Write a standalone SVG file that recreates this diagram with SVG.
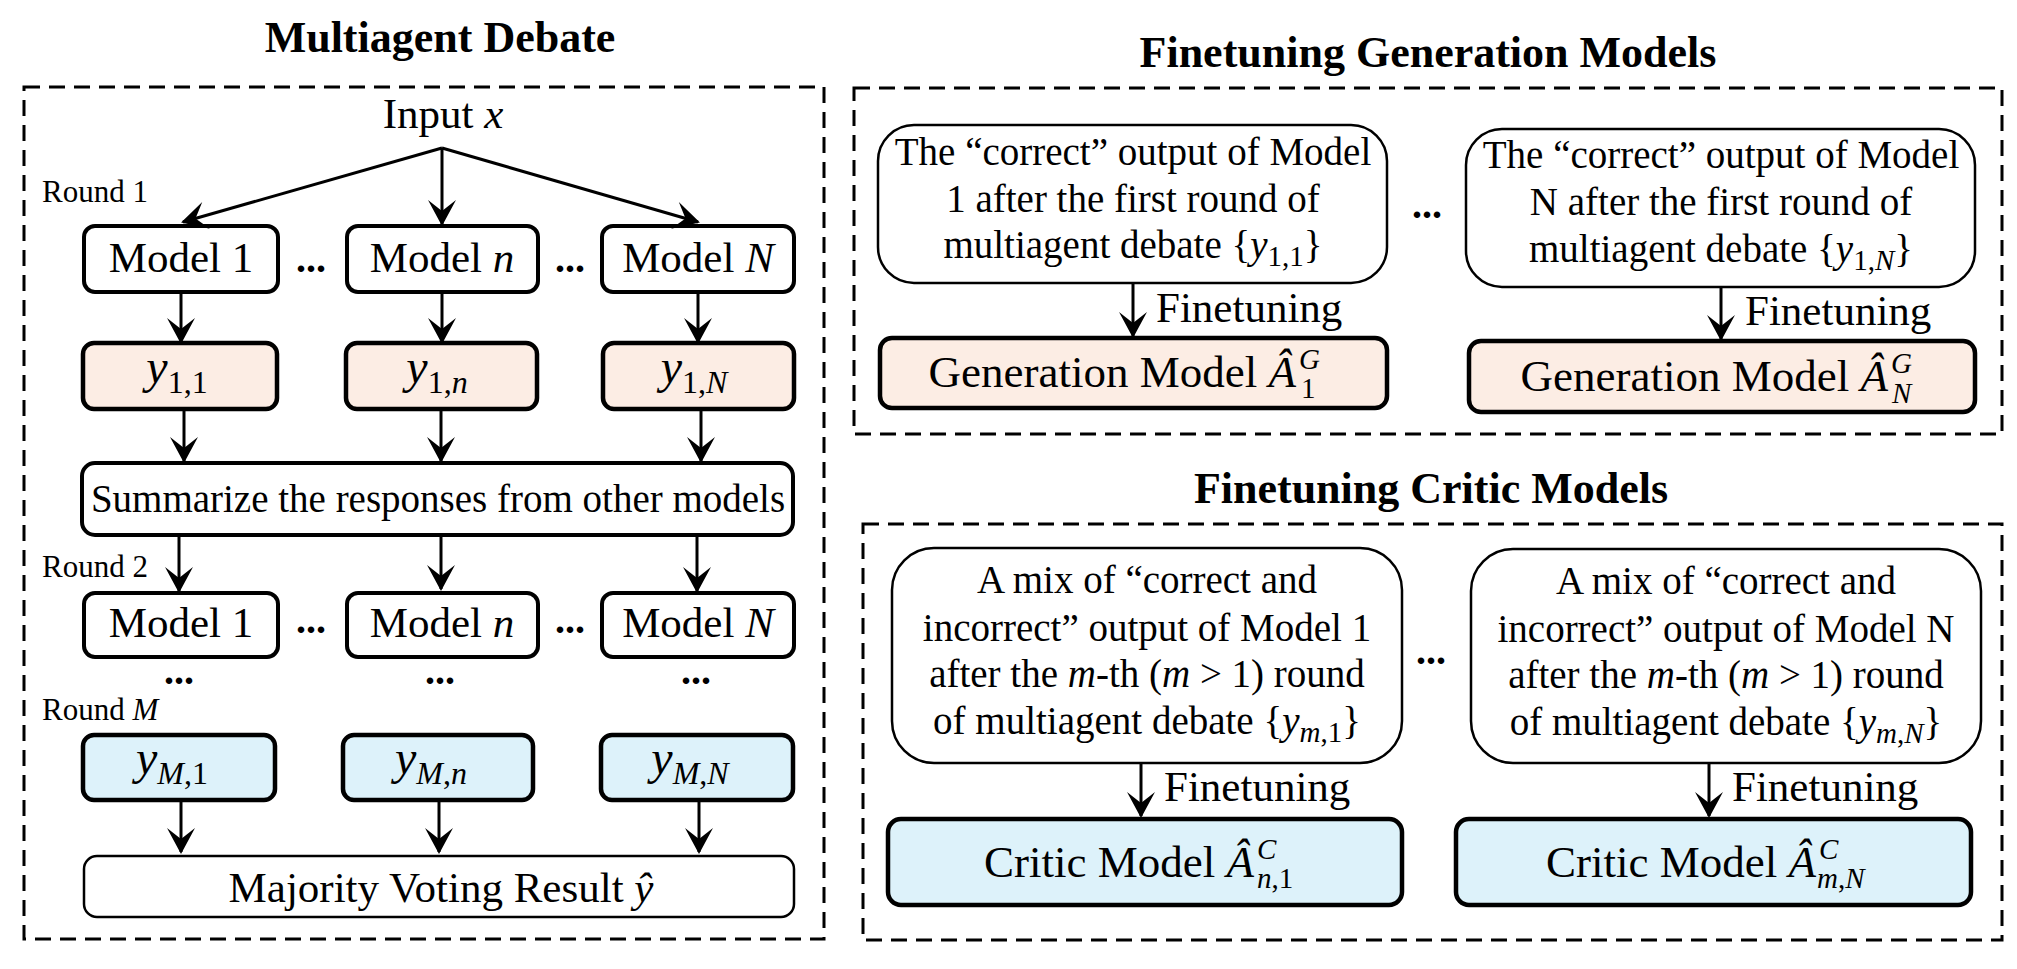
<svg xmlns="http://www.w3.org/2000/svg" width="2017" height="969" viewBox="0 0 2017 969">
<style>
text{font-family:"Liberation Serif","Times New Roman",serif;fill:#000}
.title{font-weight:bold;font-size:44px;text-anchor:middle}
.m{font-size:43px;text-anchor:middle}
.s{font-size:39px;text-anchor:middle}
.r{font-size:31px}
.ft{font-size:43px}
.bt{font-size:45px}
.i{font-style:italic}
.sub{font-size:29px}
.ys{font-size:48px;font-style:italic}
.yb{font-size:32px}
.dots{font-size:40px;font-weight:bold;text-anchor:middle}
.dash{fill:none;stroke:#000;stroke-width:3;stroke-dasharray:16 9}
.box{fill:#fff;stroke:#000;stroke-width:4}
.thin{fill:#fff;stroke:#000;stroke-width:2.5}
.peach{fill:#FCEDE4;stroke:#000;stroke-width:4.5}
.blue{fill:#DDF2FA;stroke:#000;stroke-width:4.5}
.ar{stroke:#000;stroke-width:3;fill:none;marker-end:url(#ah)}
</style>
<defs>
<marker id="ah" markerUnits="userSpaceOnUse" markerWidth="32" markerHeight="32" viewBox="-28 -16 32 32" refX="0" refY="0" orient="auto">
<path d="M2,0 L-24,-14 L-13,0 L-24,14 Z" fill="#000"/>
</marker>
</defs>

<!-- Left panel -->
<g id="multiagent-debate">
<text class="title" x="440" y="52">Multiagent Debate</text>
<rect class="dash" x="24" y="87" width="800" height="852"/>
</g>
<g id="input"><text class="m" x="443" y="128">Input <tspan class="i">x</tspan></text></g>
<g id="round-labels">
<text class="r" x="42" y="202">Round 1</text>
<text class="r" x="42" y="577">Round 2</text>
<text class="r" x="42" y="720">Round <tspan class="i">M</tspan></text>
</g>
<g id="model-1-r1"><rect class="box" x="84" y="226" width="194" height="66" rx="11"/><text class="m" x="181" y="272">Model 1</text></g>
<g id="model-n-r1"><rect class="box" x="347" y="226" width="191" height="66" rx="11"/><text class="m" x="442" y="272">Model <tspan class="i">n</tspan></text></g>
<g id="model-N-r1"><rect class="box" x="602" y="226" width="192" height="66" rx="11"/><text class="m" x="698" y="272">Model <tspan class="i">N</tspan></text></g>
<g id="dots-r1"><text class="dots" x="311" y="272">...</text><text class="dots" x="570" y="272">...</text></g>

<g id="y-1-1"><rect class="peach" x="83" y="343" width="194" height="66" rx="11"/><text class="m" x="177" y="383"><tspan class="ys">y</tspan><tspan class="yb" dy="10">1,1</tspan></text></g>
<g id="y-1-n"><rect class="peach" x="346" y="343" width="191" height="66" rx="11"/><text class="m" x="437" y="383"><tspan class="ys">y</tspan><tspan class="yb" dy="10">1,<tspan class="i">n</tspan></tspan></text></g>
<g id="y-1-N"><rect class="peach" x="603" y="343" width="191" height="66" rx="11"/><text class="m" x="694" y="383"><tspan class="ys">y</tspan><tspan class="yb" dy="10">1,<tspan class="i">N</tspan></tspan></text></g>

<g id="summarize"><rect class="box" x="82" y="463" width="711" height="72" rx="13"/><text class="s" x="438" y="512">Summarize the responses from other models</text></g>

<g id="model-1-r2"><rect class="box" x="84" y="593" width="194" height="64" rx="11"/><text class="m" x="181" y="637">Model 1</text></g>
<g id="model-n-r2"><rect class="box" x="347" y="593" width="191" height="64" rx="11"/><text class="m" x="442" y="637">Model <tspan class="i">n</tspan></text></g>
<g id="model-N-r2"><rect class="box" x="602" y="593" width="192" height="64" rx="11"/><text class="m" x="698" y="637">Model <tspan class="i">N</tspan></text></g>
<g id="dots-r2"><text class="dots" x="311" y="633">...</text><text class="dots" x="570" y="633">...</text>
<text class="dots" x="179" y="684">...</text><text class="dots" x="440" y="684">...</text><text class="dots" x="696" y="684">...</text></g>

<g id="y-M-1"><rect class="blue" x="83" y="735" width="192" height="65" rx="11"/><text class="m" x="172" y="774"><tspan class="ys">y</tspan><tspan class="yb" dy="10"><tspan class="i">M</tspan>,1</tspan></text></g>
<g id="y-M-n"><rect class="blue" x="343" y="735" width="190" height="65" rx="11"/><text class="m" x="431" y="774"><tspan class="ys">y</tspan><tspan class="yb" dy="10"><tspan class="i">M</tspan>,<tspan class="i">n</tspan></tspan></text></g>
<g id="y-M-N"><rect class="blue" x="601" y="735" width="192" height="65" rx="11"/><text class="m" x="690" y="774"><tspan class="ys">y</tspan><tspan class="yb" dy="10"><tspan class="i">M</tspan>,<tspan class="i">N</tspan></tspan></text></g>

<g id="majority"><rect class="thin" x="84" y="856" width="710" height="61" rx="13"/><text class="m" x="441" y="902" font-size="45">Majority Voting Result <tspan class="i">ŷ</tspan></text></g>

<!-- Right: generation -->
<g id="finetuning-generation">
<text class="title" x="1428" y="67">Finetuning Generation Models</text>
<rect class="dash" x="854" y="88" width="1148" height="346"/>
<text class="dots" x="1427" y="218">...</text>
</g>
<g id="gen-text-1"><rect class="thin" x="878" y="125" width="509" height="158" rx="36"/>
<text class="s" x="1133" y="165">The “correct” output of Model</text>
<text class="s" x="1133" y="212">1 after the first round of</text>
<text class="s" x="1133" y="258">multiagent debate {<tspan class="i">y</tspan><tspan class="sub" dy="8">1,1</tspan><tspan dy="-8">}</tspan></text></g>
<g id="gen-text-N"><rect class="thin" x="1466" y="129" width="509" height="158" rx="36"/>
<text class="s" x="1721" y="168">The “correct” output of Model</text>
<text class="s" x="1721" y="215">N after the first round of</text>
<text class="s" x="1721" y="262">multiagent debate {<tspan class="i">y</tspan><tspan class="sub" dy="8">1,<tspan class="i">N</tspan></tspan><tspan dy="-8">}</tspan></text></g>
<g id="gen-model-1"><rect class="peach" x="880" y="338" width="507" height="70" rx="12"/>
<text class="bt" x="1296" y="387" text-anchor="end">Generation Model <tspan class="i">Â</tspan></text>
<text class="sub i" x="1299" y="369">G</text><text class="sub" x="1301" y="398">1</text></g>
<g id="gen-model-N"><rect class="peach" x="1469" y="341" width="506" height="71" rx="12"/>
<text class="bt" x="1888" y="391" text-anchor="end">Generation Model <tspan class="i">Â</tspan></text>
<text class="sub i" x="1891" y="373">G</text><text class="sub i" x="1892" y="403">N</text></g>
<g id="finetuning-labels-gen">
<text class="ft" x="1156" y="322">Finetuning</text>
<text class="ft" x="1745" y="325">Finetuning</text>
</g>

<!-- Right: critic -->
<g id="finetuning-critic">
<text class="title" x="1431" y="503">Finetuning Critic Models</text>
<rect class="dash" x="863" y="524" width="1139" height="416"/>
<text class="dots" x="1431" y="664">...</text>
</g>
<g id="critic-text-1"><rect class="thin" x="892" y="548" width="510" height="215" rx="42"/>
<text class="s" x="1147" y="593">A mix of “correct and</text>
<text class="s" x="1147" y="641">incorrect” output of Model 1</text>
<text class="s" x="1147" y="687">after the <tspan class="i">m</tspan>-th (<tspan class="i">m</tspan> &gt; 1) round</text>
<text class="s" x="1147" y="734">of multiagent debate {<tspan class="i">y</tspan><tspan class="sub" dy="8"><tspan class="i">m</tspan>,1</tspan><tspan dy="-8">}</tspan></text></g>
<g id="critic-text-N"><rect class="thin" x="1471" y="549" width="510" height="214" rx="42"/>
<text class="s" x="1726" y="594">A mix of “correct and</text>
<text class="s" x="1726" y="642">incorrect” output of Model N</text>
<text class="s" x="1726" y="688">after the <tspan class="i">m</tspan>-th (<tspan class="i">m</tspan> &gt; 1) round</text>
<text class="s" x="1726" y="735">of multiagent debate {<tspan class="i">y</tspan><tspan class="sub" dy="8"><tspan class="i">m</tspan>,<tspan class="i">N</tspan></tspan><tspan dy="-8">}</tspan></text></g>
<g id="critic-model-1"><rect class="blue" x="888" y="819" width="514" height="86" rx="13"/>
<text class="bt" x="1254" y="877" text-anchor="end">Critic Model <tspan class="i">Â</tspan></text>
<text class="sub i" x="1257" y="859">C</text><text class="sub" x="1257" y="888"><tspan class="i">n</tspan>,1</text></g>
<g id="critic-model-N"><rect class="blue" x="1456" y="819" width="515" height="86" rx="13"/>
<text class="bt" x="1816" y="877" text-anchor="end">Critic Model <tspan class="i">Â</tspan></text>
<text class="sub i" x="1819" y="859">C</text><text class="sub" x="1817" y="888"><tspan class="i">m</tspan>,<tspan class="i">N</tspan></text></g>
<g id="finetuning-labels-critic">
<text class="ft" x="1164" y="801">Finetuning</text>
<text class="ft" x="1732" y="801">Finetuning</text>
</g>

<!-- Connectors -->
<g id="connectors">
<line class="ar" x1="442" y1="148" x2="183" y2="222"/>
<line class="ar" x1="442" y1="148" x2="442" y2="224"/>
<line class="ar" x1="442" y1="148" x2="698" y2="222"/>
<line class="ar" x1="181" y1="292" x2="181" y2="342"/>
<line class="ar" x1="442" y1="292" x2="442" y2="342"/>
<line class="ar" x1="698" y1="292" x2="698" y2="342"/>
<line class="ar" x1="184" y1="409" x2="184" y2="461"/>
<line class="ar" x1="441" y1="409" x2="441" y2="461"/>
<line class="ar" x1="701" y1="409" x2="701" y2="461"/>
<line class="ar" x1="179" y1="535" x2="179" y2="591"/>
<line class="ar" x1="441" y1="535" x2="441" y2="589"/>
<line class="ar" x1="697" y1="535" x2="697" y2="591"/>
<line class="ar" x1="181" y1="800" x2="181" y2="852"/>
<line class="ar" x1="439" y1="800" x2="439" y2="852"/>
<line class="ar" x1="699" y1="800" x2="699" y2="852"/>
<line class="ar" x1="1133" y1="283" x2="1133" y2="336"/>
<line class="ar" x1="1721" y1="287" x2="1721" y2="339"/>
<line class="ar" x1="1141" y1="763" x2="1141" y2="816"/>
<line class="ar" x1="1709" y1="763" x2="1709" y2="816"/>
</g>
</svg>
